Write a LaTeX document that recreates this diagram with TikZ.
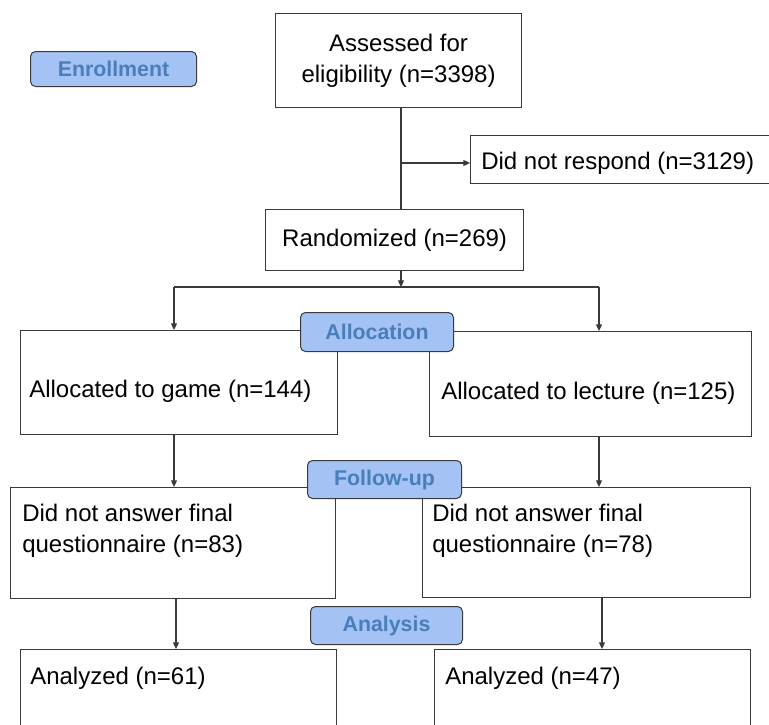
\documentclass[tikz,border=0pt]{standalone}
\usepackage{fontspec}
\setmainfont{Liberation Sans}
\usepackage{tikz}
\usetikzlibrary{arrows.meta}
\definecolor{stageFill}{HTML}{A4C2F4}
\definecolor{stageText}{HTML}{4A7EBB}
\definecolor{lineGray}{HTML}{3A3A3A}

\begin{document}
\begin{tikzpicture}[x=0.75pt,y=0.75pt,yscale=-1,xscale=1,
  font=\fontsize{18}{23.5}\selectfont,
  box/.style={draw=lineGray, line width=0.9pt, anchor=north west, inner sep=0pt},
  stage/.style={draw=lineGray, line width=0.75pt, fill=stageFill, rounded corners=3.75pt, anchor=north west, inner sep=0pt, text=stageText, font=\fontsize{16}{19}\selectfont\bfseries},
  boxtext/.style={anchor=north west, align=left, inner sep=0pt},
  conn/.style={draw=lineGray, line width=0.9pt},
  arr/.style={conn, -{Triangle[length=5pt,width=4.5pt]}}]
%set diagram: 769 wide, 725 high
\useasboundingbox (0,0) rectangle (769,725);
\clip (0,0) rectangle (769,725);

%Shape: Boxes
\node[box, minimum width=184.5pt, minimum height=70.5pt, align=center] (assess) at (275,13) {Assessed for\\eligibility (n=3398)};
\node[box, minimum width=247.5pt, minimum height=36pt,
  label={[boxtext, name=norespondText, inner xsep=8.25pt, inner ysep=12.75pt]north west:Did not respond (n=3129)}] (norespond) at (470,135) {};
\node[box, minimum width=193.5pt, minimum height=45.75pt] (random) at (265,209) {Randomized (n=269)};
\node[box, minimum width=237.75pt, minimum height=78pt,
  label={[boxtext, name=gameText, inner xsep=6.75pt, inner ysep=37.5pt]north west:Allocated to game (n=144)}] (game) at (20,330) {};
\node[box, minimum width=241.5pt, minimum height=78.75pt,
  label={[boxtext, name=lectureText, inner xsep=9pt, inner ysep=38.25pt]north west:Allocated to lecture (n=125)}] (lecture) at (429,331) {};
\node[box, minimum width=243.75pt, minimum height=83.25pt,
  label={[boxtext, name=dnaLText, inner xsep=9pt, inner ysep=12.75pt]north west:Did not answer final\\questionnaire (n=83)}] (dnaL) at (10,487) {};
\node[box, minimum width=246pt, minimum height=82.5pt,
  label={[boxtext, name=dnaRText, inner xsep=7.5pt, inner ysep=12.75pt]north west:Did not answer final\\questionnaire (n=78)}] (dnaR) at (422,487) {};
\node[box, minimum width=237pt, minimum height=90pt,
  label={[boxtext, name=anLText, inner xsep=7.5pt, inner ysep=13.5pt]north west:Analyzed (n=61)}] (anL) at (20,649) {};
\node[box, minimum width=237pt, minimum height=90pt,
  label={[boxtext, name=anRText, inner xsep=8.25pt, inner ysep=13.5pt]north west:Analyzed (n=47)}] (anR) at (434,649) {};

%Coordinates: branch points
\coordinate (split) at (401,163);
\coordinate (fork) at (401,287);
\coordinate (forkL) at (174,287);
\coordinate (forkR) at (599,287);

%Connectors
\draw[conn] (split |- assess.south) -- (split |- random.north);
\draw[arr] (split) -- (split -| norespond.west);
\draw[arr] (fork |- random.south) -- (fork);
\draw[conn] (forkL) -- (forkR);
\draw[arr] (forkL) -- (forkL |- game.north);
\draw[arr] (forkR) -- (forkR |- lecture.north);
\draw[arr] (forkL |- game.south) -- (forkL |- dnaL.north);
\draw[arr] (forkR |- lecture.south) -- (forkR |- dnaR.north);
\draw[arr] ([xshift=1.5pt]forkL |- dnaL.south) -- ([xshift=1.5pt]forkL |- anL.north);
\draw[arr] ([xshift=2.25pt]forkR |- dnaR.south) -- ([xshift=2.25pt]forkR |- anR.north);

%Shape: Stage labels
\node[stage, minimum width=124.5pt, minimum height=26.25pt] (enroll) at (30,51) {Enrollment};
\node[stage, minimum width=114.75pt, minimum height=29.25pt] (alloc) at (300,312) {Allocation};
\node[stage, minimum width=115.5pt, minimum height=28.5pt] (follow) at (307,460) {Follow-up};
\node[stage, minimum width=114pt, minimum height=28.5pt] (analysis) at (310,606) {Analysis};
\end{tikzpicture}
\end{document}
